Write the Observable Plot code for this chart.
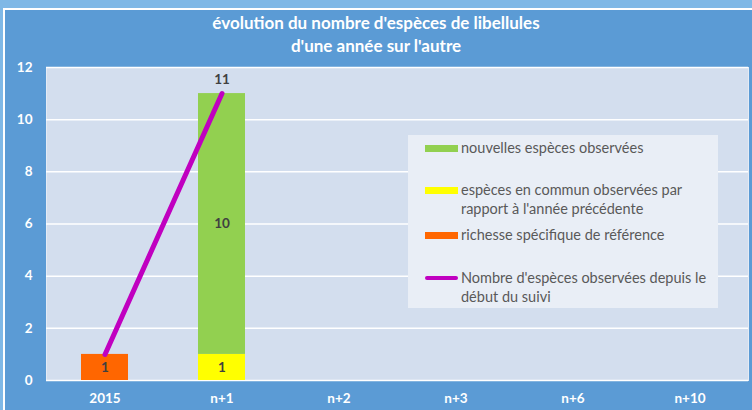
<!DOCTYPE html>
<html><head><meta charset="utf-8">
<script src="https://cdn.jsdelivr.net/npm/d3@7"></script>
<script src="https://cdn.jsdelivr.net/npm/@observablehq/plot@0.6"></script>
<style>
  html,body{margin:0;padding:0;}
  body{width:752px;height:410px;overflow:hidden;background:#7FB8E6;font-family:Lato,"Open Sans",sans-serif;}
  #frame{position:absolute;left:3px;top:8px;width:749px;height:402px;background:#5B9BD5;border-left:2px solid #fff;border-top:2px solid #fff;box-sizing:border-box;}
  #title{position:absolute;left:0;top:11px;width:752px;text-align:center;color:#fff;font-weight:bold;font-size:17px;line-height:23px;}
  #chart{position:absolute;left:0;top:60px;}
  #legend{position:absolute;left:408px;top:135px;width:310px;height:173px;background:#E9EEF6;color:#595959;font-size:14.5px;}
  .item{position:absolute;left:53px;line-height:19px;white-space:pre;}
  .sw{position:absolute;left:-36px;width:33px;}
</style>
</head><body>
<div id="frame"></div>
<div id="title">évolution du nombre d'espèces de libellules<br>d'une année sur l'autre</div>
<div id="chart"></div>
<div id="legend"></div>
<script>
const categories = ["2015", "n+1", "n+2", "n+3", "n+6", "n+10"];
const referenceRichness = [1, null, null, null, null, null];
const commonSpecies = [null, 1, null, null, null, null];
const newSpecies = [null, 10, null, null, null, null];
const cumulativeSpecies = [1, 11, null, null, null, null];
const yTicks = [0, 2, 4, 6, 8, 10, 12];

const seriesNames = [
  "richesse spécifique de référence",
  "espèces en commun observées par rapport à l'année précédente",
  "nouvelles espèces observées"
];
const seriesLegendLabels = [
  "richesse spécifique de référence",
  "espèces en commun observées par\nrapport à l'année précédente",
  "nouvelles espèces observées"
];
const seriesColors = ["#FF6600", "#FFFF00", "#92D050"];
const lineLegendLabel = "Nombre d'espèces observées depuis le\ndébut du suivi";
const lineColor = "#C000C0";

const seriesValues = [referenceRichness, commonSpecies, newSpecies];
const rows = [];
seriesValues.forEach((vals, s) => vals.forEach((v, i) => {
  if (v != null) rows.push({cat: categories[i], series: seriesNames[s], value: v});
}));
const linePts = categories.map((c, i) => ({cat: c, value: cumulativeSpecies[i]})).filter(d => d.value != null);

const stackOpts = {x: "cat", y: "value", z: "series", order: seriesNames};

const chart = Plot.plot({
  width: 752,
  height: 350,
  marginTop: 7,
  marginBottom: 30,
  marginLeft: 46,
  marginRight: 4,
  style: {background: "transparent", fontFamily: "Lato, 'Open Sans', sans-serif"},
  x: {domain: categories, paddingInner: 0.6, paddingOuter: 0.3, label: null},
  y: {domain: [0, 12], ticks: yTicks, label: null},
  color: {domain: seriesNames, range: seriesColors},
  marks: [
    Plot.frame({fill: "#D3DEEE", stroke: "#E4EBF5"}),
    Plot.gridY(yTicks, {stroke: "#ffffff", strokeOpacity: 1, strokeWidth: 1.5}),
    Plot.axisY({ticks: yTicks, tickSize: 0, tickPadding: 14, fill: "#fff", fontWeight: "bold", fontSize: 13.5, label: null}),
    Plot.axisX({tickSize: 0, tickPadding: 13, fill: "#fff", fontWeight: "bold", fontSize: 13.5, label: null}),
    Plot.barY(rows, Plot.stackY({...stackOpts, fill: "series"})),
    Plot.text(rows, Plot.stackY({...stackOpts, text: d => String(d.value), fill: "#404040", fontWeight: "bold", fontSize: 13.5})),
    Plot.line(linePts, {x: "cat", y: "value", stroke: lineColor, strokeWidth: 5, strokeLinecap: "round"}),
    Plot.text(linePts.slice(-1), {x: "cat", y: "value", text: d => String(d.value), dy: -14, fill: "#404040", fontWeight: "bold", fontSize: 13.5})
  ]
});
document.getElementById("chart").appendChild(chart);

// Legend
const legend = document.getElementById("legend");
const items = [
  {name: seriesLegendLabels[2], color: seriesColors[2], top: 3, h: 7, line: false},
  {name: seriesLegendLabels[1], color: seriesColors[1], top: 45, h: 7, line: false},
  {name: seriesLegendLabels[0], color: seriesColors[0], top: 90, h: 7, line: false},
  {name: lineLegendLabel, color: lineColor, top: 133, h: 4, line: true}
];
items.forEach(it => {
  const d = document.createElement("div");
  d.className = "item";
  d.style.top = it.top + "px";
  d.textContent = it.name;
  const sw = document.createElement("span");
  sw.className = "sw";
  sw.style.top = (10 - it.h / 2) + "px";
  sw.style.height = it.h + "px";
  sw.style.background = it.color;
  if (it.line) sw.style.borderRadius = "2px";
  d.appendChild(sw);
  legend.appendChild(d);
});
</script>
</body></html>
